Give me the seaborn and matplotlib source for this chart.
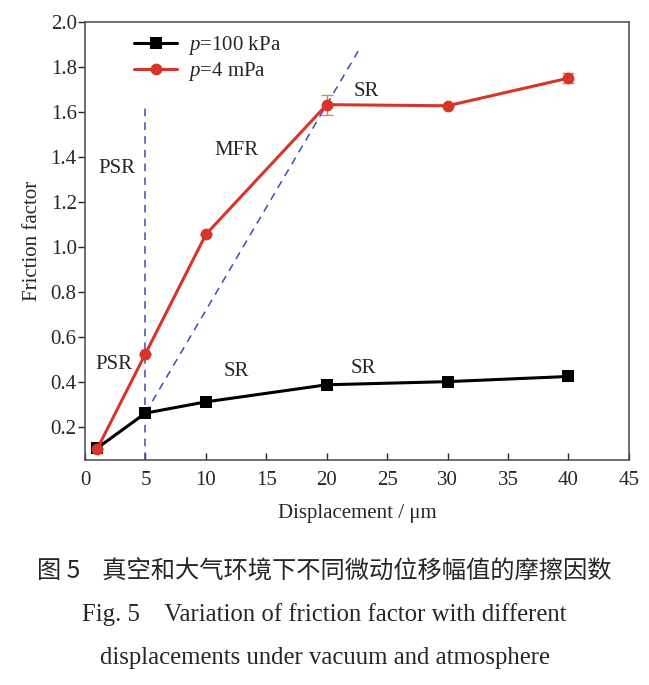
import pandas as pd
import matplotlib
matplotlib.use("Agg")
import matplotlib.pyplot as plt
import seaborn as sns

# data
displacement = [1, 5, 10, 20, 30, 40]
ff_100kpa = [0.104, 0.26, 0.31, 0.386, 0.40, 0.423]
ff_4mpa = [0.10, 0.524, 1.055, 1.632, 1.627, 1.75]
err_4mpa = [0.0, 0.0, 0.0, 0.045, 0.0, 0.022]
series_names = ["$p$=100 kPa", "$p$=4 mPa"]

# boundary guide lines
vline_x = [5, 5]
vline_y = [0.05, 1.63]
diag_x = [5, 22.6]
diag_y = [0.26, 1.87]

# region labels
region_labels = ["PSR", "MFR", "PSR", "SR", "SR", "SR"]
region_x = [2.6, 12.5, 2.4, 12.5, 23.3, 23.0]
region_y = [1.35, 1.43, 0.475, 0.445, 1.69, 0.46]

sns.set_theme(style="white")
plt.rcParams["font.family"] = ["Liberation Serif", "Noto Sans CJK SC"]
plt.rcParams["mathtext.fontset"] = "custom"
plt.rcParams["mathtext.it"] = "Liberation Serif:italic"
plt.rcParams["mathtext.rm"] = "Liberation Serif"

df = pd.DataFrame({
    "x": displacement * 2,
    "y": ff_100kpa + ff_4mpa,
    "series": [series_names[0]] * len(displacement) + [series_names[1]] * len(displacement),
})

fig = plt.figure(figsize=(6.49, 6.85), dpi=100)
ax = fig.add_axes([0.131, 0.328, 0.838, 0.64])

red = "#d8352a"
sns.lineplot(data=df, x="x", y="y", hue="series", style="series",
             palette={series_names[0]: "black", series_names[1]: red},
             markers={series_names[0]: "s", series_names[1]: "o"},
             dashes=False, markersize=8.5, linewidth=2.2, markeredgewidth=0,
             ax=ax, zorder=3)
ax.errorbar(displacement, ff_4mpa, yerr=err_4mpa, fmt="none", ecolor="#e87a70",
            elinewidth=1, capsize=4, zorder=2)

ax.plot(vline_x, vline_y, ls=(0, (5, 4)), color="#3b4fa8", lw=1.1, zorder=1)
ax.plot(diag_x, diag_y, ls=(0, (5, 4)), color="#3b4fa8", lw=1.1, zorder=1)

for lab, tx, ty in zip(region_labels, region_x, region_y):
    ax.text(tx, ty, lab, fontsize=15, ha="center", va="center")

ax.set_xlim(0, 45)
ax.set_ylim(0.05, 2.0)
ax.set_xticks(range(0, 46, 5))
ax.set_yticks([0.2, 0.4, 0.6, 0.8, 1.0, 1.2, 1.4, 1.6, 1.8, 2.0])
ax.set_yticklabels([f"{v:.1f}" for v in ax.get_yticks()])
ax.tick_params(axis="x", direction="in", length=5, width=1, labelsize=15, pad=8)
ax.tick_params(axis="y", direction="out", length=5, width=1, labelsize=15, pad=1)
ax.tick_params(left=True, bottom=True)
for sp in ax.spines.values():
    sp.set_color("#555555")
    sp.set_linewidth(1.2)

ax.set_xlabel("Displacement / μm", fontsize=15, labelpad=10)
ax.set_ylabel("Friction factor", fontsize=15, labelpad=6)

leg = ax.legend(loc="upper left", bbox_to_anchor=(0.055, 1.015), frameon=False,
                fontsize=15, handlelength=2.1, handletextpad=0.5, labelspacing=0.15)
leg.set_title(None)

fig.text(0.5, 0.166, "图 5    真空和大气环境下不同微动位移幅值的摩擦因数",
         ha="center", va="center", fontsize=17.5,
         family=["Noto Sans CJK SC", "Liberation Serif"])
fig.text(0.5, 0.103, "Fig. 5    Variation of friction factor with different",
         ha="center", va="center", fontsize=17.8)
fig.text(0.5, 0.039, "displacements under vacuum and atmosphere",
         ha="center", va="center", fontsize=17.8)

fig.savefig("out.png", dpi=100)
